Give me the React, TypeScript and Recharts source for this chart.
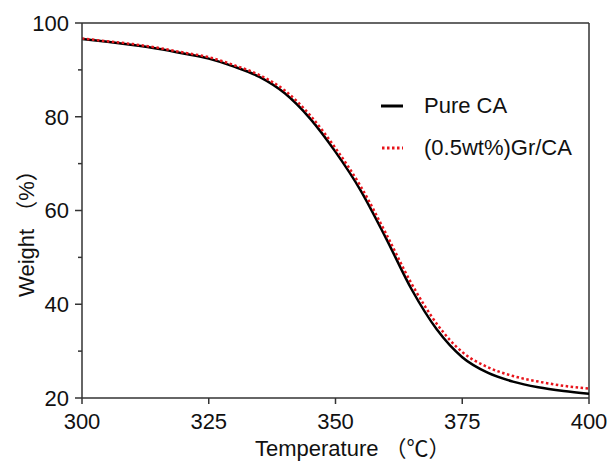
import { LineChart, Line, XAxis, YAxis, ReferenceLine } from "recharts";

const AXIS = "#333333";
const FONT = "'Liberation Sans', Arial, 'Noto Sans CJK SC', sans-serif";

const temps = [300, 305, 310, 315, 320, 325, 330, 335, 340, 345, 350, 355, 360, 365, 370, 375, 380, 385, 390, 395, 400];
const pureCA = [96.6, 96.0, 95.3, 94.5, 93.5, 92.4, 90.7, 88.5, 85.0, 79.6, 72.5, 64.2, 54.0, 43.2, 34.6, 28.7, 25.4, 23.5, 22.3, 21.5, 20.9];
const grCA = [96.7, 96.1, 95.5, 94.7, 93.7, 92.7, 91.0, 88.9, 85.6, 80.3, 73.3, 65.1, 55.0, 44.4, 35.8, 29.8, 26.6, 24.7, 23.5, 22.6, 22.0];

const xTicks = [300, 325, 350, 375, 400];
const yTicks = [20, 30, 40, 50, 60, 70, 80, 90, 100];

const rows = temps.map((t, i) => ({ t, pure: pureCA[i], gr: grCA[i] }));

function YTick({ x, y, payload }: any) {
  const major = payload.value % 20 === 0;
  return (
    <g>
      <line x1={x - (major ? 7 : 4)} x2={x} y1={y} y2={y} stroke={AXIS} strokeWidth={1.5} />
      {major && (
        <text x={x - 13} y={y} dy="0.36em" textAnchor="end" fontSize={22} fill="#111" fontFamily={FONT}>
          {payload.value}
        </text>
      )}
    </g>
  );
}

function XTick({ x, y, payload }: any) {
  return (
    <g>
      <line x1={x} x2={x} y1={y} y2={y + 6} stroke={AXIS} strokeWidth={1.5} />
      <text x={x} y={y + 31} textAnchor="middle" fontSize={22} fill="#111" fontFamily={FONT}>
        {payload.value}
      </text>
    </g>
  );
}

function LegendBox() {
  const row = { display: "flex", alignItems: "center", height: 42 } as const;
  const txt = { fontFamily: FONT, fontSize: 22, color: "#111", marginLeft: 21 } as const;
  return (
    <div style={{ position: "absolute", left: 381, top: 85 }}>
      <div style={row}>
        <svg width={22} height={6}>
          <line x1={0} x2={22} y1={3} y2={3} stroke="#000" strokeWidth={3} />
        </svg>
        <span style={txt}>Pure CA</span>
      </div>
      <div style={row}>
        <svg width={22} height={6}>
          <line x1={1} x2={22} y1={3} y2={3} stroke="#e8141b" strokeWidth={3} strokeDasharray="2.5 2.5" />
        </svg>
        <span style={txt}>(0.5wt%)Gr/CA</span>
      </div>
    </div>
  );
}

export default function App() {
  return (
    <div style={{ position: "absolute", left: 0, top: 0, width: 610, height: 461, background: "#fff" }}>
      <LineChart width={610} height={461} data={rows} margin={{ top: 23, right: 21, left: 0, bottom: 0 }}>
        <XAxis
          dataKey="t"
          type="number"
          domain={[300, 400]}
          ticks={xTicks}
          height={63}
          tickSize={0}
          tickMargin={0}
          tick={<XTick />}
          tickLine={false}
          stroke={AXIS}
          strokeWidth={1.5}
          allowDataOverflow
        />
        <YAxis
          type="number"
          domain={[20, 100]}
          ticks={yTicks}
          width={82}
          tickSize={0}
          tickMargin={0}
          tick={<YTick />}
          tickLine={false}
          stroke={AXIS}
          strokeWidth={1.5}
          interval={0}
          allowDataOverflow
          label={{
            content: () => (
              <text
                x={26}
                y={228}
                transform="rotate(-90, 26, 228)"
                textAnchor="middle"
                dominantBaseline="central"
                fontSize={22}
                fill="#111"
                fontFamily={FONT}
              >
                Weight （%）
              </text>
            ),
          }}
        />
        <ReferenceLine y={100} stroke={AXIS} strokeWidth={1.5} />
        <ReferenceLine x={400} stroke={AXIS} strokeWidth={1.5} />
        <Line
          type="monotone"
          dataKey="pure"
          stroke="#000"
          strokeWidth={2.5}
          dot={false}
          isAnimationActive={false}
        />
        <Line
          type="monotone"
          dataKey="gr"
          stroke="#e8141b"
          strokeWidth={2.5}
          strokeDasharray="2.5 2.5"
          dot={false}
          isAnimationActive={false}
        />
      </LineChart>
      <LegendBox />
      <div
        style={{
          position: "absolute",
          left: 255,
          top: 437,
          fontFamily: FONT,
          fontSize: 22,
          color: "#111",
          whiteSpace: "pre",
          lineHeight: "24px",
        }}
      >
        Temperature （℃）
      </div>
    </div>
  );
}
